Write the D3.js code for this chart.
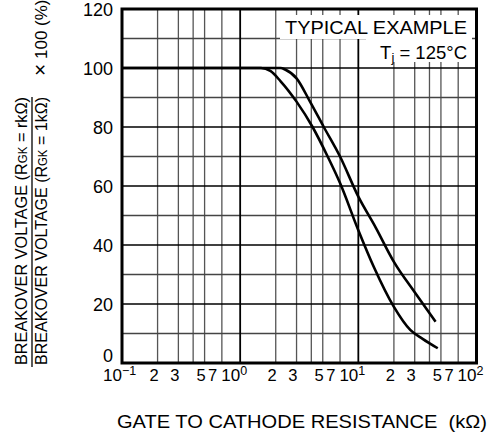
<!DOCTYPE html>
<html><head><meta charset="utf-8">
<script src="https://cdn.jsdelivr.net/npm/d3@7"></script>
<style>
body{margin:0;background:#fff;}
svg text{font-family:"Liberation Sans",Arial,sans-serif;fill:#000;}
</style></head>
<body><svg id="c" width="501" height="441"></svg>
<script>
// ---- data ----
const yTicks = [0,20,40,60,80,100,120];
const yMinor = [10,30,50,70,90,110];
const xDecades = [0.1,1,10,100];
const xDecadeExp = ["−1","0","1","2"];
const xMinorMult = [2,3,4,5,7];
const xLabelMult = [2,3,5,7];
// Lower (left) curve
const curveA_r = [0.1,1.5,1.8,2.2,3.0,4.1,5.5,7.0,10,13.5,20,27.5,35,47];
const curveA_v = [100,100,99,95.5,88.6,80,70,61,45,32.6,19,11.2,8.2,5];
// Upper (right) curve
const curveB_r = [0.1,2.2,2.4,3.0,3.9,5.1,7.0,10,14,20,30,45];
const curveB_v = [100,100,99.5,96.5,88.6,80,70,56.4,46,34.3,24,14];
const legend1 = "TYPICAL EXAMPLE";
const legend2 = ["T","j"," = 125°C"];
const xTitle = "GATE TO CATHODE RESISTANCE\u00A0\u00A0(kΩ)";

const svg = d3.select("#c");
const L=122, R=476.5, T=9, B=363;
const x = d3.scaleLog().domain([0.1,100]).range([L,R]);
const y = d3.scaleLinear().domain([0,120]).range([B,T]);

const g = svg.append("g");
const minorX = [];
xDecades.slice(0,3).forEach(d=>xMinorMult.forEach(m=>minorX.push(d*m)));
g.selectAll(".vmin").data(minorX).enter().append("line")
 .attr("x1",d=>x(d)).attr("x2",d=>x(d)).attr("y1",T).attr("y2",B)
 .attr("stroke","#555").attr("stroke-width",1.3);
g.selectAll(".hmin").data(yMinor).enter().append("line")
 .attr("x1",L).attr("x2",R).attr("y1",d=>y(d)).attr("y2",d=>y(d))
 .attr("stroke","#444").attr("stroke-width",1.3);
g.selectAll(".vmaj").data(xDecades).enter().append("line")
 .attr("x1",d=>x(d)).attr("x2",d=>x(d)).attr("y1",T).attr("y2",B)
 .attr("stroke","#000").attr("stroke-width",1.8);
g.selectAll(".hmaj").data(yTicks).enter().append("line")
 .attr("x1",L).attr("x2",R).attr("y1",d=>y(d)).attr("y2",d=>y(d))
 .attr("stroke","#000").attr("stroke-width",1.6);

// legend white boxes
svg.append("rect").attr("x",280).attr("y",15).attr("width",192).attr("height",24).attr("fill","#fff");
svg.append("rect").attr("x",366).attr("y",39).attr("width",106).attr("height",23).attr("fill","#fff");
svg.append("text").attr("x",285).attr("y",34).attr("font-size",18.5)
  .attr("textLength",182).attr("lengthAdjust","spacingAndGlyphs").text(legend1);
const lt = svg.append("text").attr("x",467).attr("y",59).attr("text-anchor","end").attr("font-size",18.5);
lt.append("tspan").text(legend2[0]);
lt.append("tspan").attr("font-size",13).attr("dy",3).text(legend2[1]);
lt.append("tspan").attr("dy",-3).text(legend2[2]);

// curves
const line = d3.line().x(d=>x(d[0])).y(d=>y(d[1])).curve(d3.curveMonotoneX);
[[curveA_r,curveA_v],[curveB_r,curveB_v]].forEach(([rs,vs])=>{
  svg.append("path").datum(rs.map((r,i)=>[r,vs[i]])).attr("d",line)
   .attr("fill","none").attr("stroke","#000").attr("stroke-width",2.6);
});

// border
svg.append("rect").attr("x",L).attr("y",T).attr("width",R-L).attr("height",B-T)
 .attr("fill","none").attr("stroke","#000").attr("stroke-width",3);

// y tick labels
svg.selectAll(".yl").data(yTicks).enter().append("text")
 .attr("x",113).attr("y",d=>d===0?y(d)-1:y(d)+7)
 .attr("text-anchor","end").attr("font-size",18).text(d=>d);

// x tick labels
const xl = svg.append("g");
const decStart = [];
xDecades.forEach((d,i)=>{
  const t = xl.append("text").attr("x",x(d)).attr("y",381).attr("font-size",17);
  t.append("tspan").text("10");
  t.append("tspan").attr("font-size",12.5).attr("dy",-6).text(xDecadeExp[i]);
  const w = t.select("tspan").node().getComputedTextLength();
  t.attr("x",x(d)-w);
  decStart.push(x(d)-w);
});
xDecades.slice(0,3).forEach((d,i)=>xLabelMult.forEach((m,j)=>{
  let xe = x(d*m)+1;
  if (j===xLabelMult.length-1) xe = Math.min(xe, decStart[i+1]-4);
  xl.append("text").attr("x",xe).attr("y",381).attr("font-size",16.5)
   .attr("text-anchor","end").text(m);
}));

// x title
svg.append("text").attr("x",117).attr("y",428).attr("font-size",18)
  .attr("textLength",370).attr("lengthAdjust","spacingAndGlyphs").text(xTitle);

// y title (fraction)
function yl(xb, y0, len, parts){
  const t = svg.append("text").attr("transform",`translate(${xb},${y0}) rotate(-90)`)
    .attr("font-size",17).attr("textLength",len).attr("lengthAdjust","spacingAndGlyphs");
  parts.forEach(p=>{ const s=t.append("tspan").text(p[0]); if(p[1]) s.attr("font-size",p[1]); });
}
yl(27,365,268,[["BREAKOVER VOLTAGE (R"],["GK",12],[" = rkΩ)"]]);
yl(47,365,268,[["BREAKOVER VOLTAGE (R"],["GK",12],[" = 1kΩ)"]]);
svg.append("line").attr("x1",32).attr("x2",32).attr("y1",97).attr("y2",367).attr("stroke","#000").attr("stroke-width",1.3);
const yt = svg.append("text").attr("transform","translate(47,76) rotate(-90)").attr("font-size",17);
yt.append("tspan").attr("font-size",21).text("×");
yt.append("tspan").text("\u00A0100 (%)");
</script></body></html>
